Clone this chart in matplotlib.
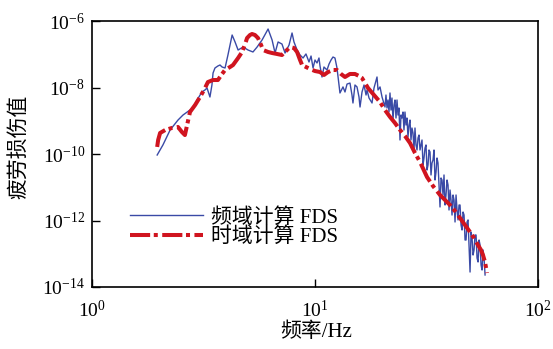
import matplotlib
matplotlib.use("Agg")
import matplotlib.pyplot as plt
from matplotlib.ticker import FixedLocator, LogFormatterMathtext, NullLocator

plt.rcParams['font.family'] = ['Liberation Serif', 'Noto Sans CJK SC']
plt.rcParams['mathtext.fontset'] = 'stix'
plt.rcParams['axes.unicode_minus'] = True

# Frequency-domain FDS (blue)
freq_fd = [1.96, 2.08, 2.24, 2.43, 2.56, 2.75, 2.84, 2.96, 3.11, 3.21, 3.28, 3.38, 3.45, 3.49,
           3.56, 3.67, 3.75, 3.83, 3.95, 4.07, 4.25, 4.38, 4.52, 4.76, 5.01, 5.27, 5.50, 5.79,
           6.16, 6.42, 6.62, 6.83, 7.11, 7.34, 7.65, 7.89, 8.05, 8.31, 8.57, 8.84, 9.11, 9.40,
           9.60, 9.80, 10.0, 10.21, 10.42, 10.53, 10.75, 10.97, 11.32, 11.56, 11.80, 12.04, 12.29,
           12.55, 12.94, 13.35, 13.63, 13.92, 14.35, 14.65, 14.80, 15.11, 15.43, 15.75, 15.92,
           16.25, 16.59, 16.94, 17.11, 17.47, 18.02, 18.39, 18.97, 19.17, 19.57, 19.98,
           20.60, 20.81, 21.03, 21.25, 21.47, 21.69, 21.92, 22.14, 22.37, 22.61,
           22.84, 23.08, 23.32, 23.56, 23.80, 24.05, 24.30, 24.55, 24.81, 25.06,
           25.32, 25.59, 25.85, 26.12, 26.39, 26.67, 26.94, 27.22, 27.51, 27.79,
           28.08, 28.37, 28.67, 28.97, 29.27, 29.57, 29.88, 30.19, 30.50, 30.82,
           31.14, 31.46, 31.79, 32.12, 32.45, 32.79, 33.13, 33.47, 33.82, 34.17,
           34.53, 34.89, 35.25, 35.61, 35.98, 36.36, 36.74, 37.12, 37.50, 37.89,
           38.29, 38.68, 39.09, 39.49, 39.90, 40.32, 40.74, 41.16, 41.59, 42.02,
           42.46, 42.90, 43.34, 43.79, 44.25, 44.71, 45.17, 45.64, 46.12, 46.60,
           47.08, 47.57, 48.06, 48.56, 49.07, 49.58, 50.09, 50.61, 51.14, 51.67,
           52.20, 52.75, 53.29, 53.85, 54.41, 54.97, 55.54, 56.12, 56.70, 57.29, 57.89]
fds_fd = [9.33e-11, 1.87e-10, 5.27e-10, 1.05e-9, 1.49e-9, 2.10e-9, 2.42e-9, 4.21e-9, 7.33e-9,
          8.41e-9, 9.66e-9, 5.18e-9, 1.19e-8, 2.73e-8, 3.86e-8, 4.44e-8, 4.75e-8, 4.14e-8,
          3.86e-8, 9.49e-8, 3.79e-7, 2.34e-7, 1.34e-7, 1.65e-7, 1.34e-7, 1.17e-7, 1.65e-7,
          2.69e-7, 5.74e-7, 2.69e-7, 1.09e-7, 2.34e-7, 2.03e-7, 1.09e-7, 1.90e-7, 4.36e-7,
          2.34e-7, 1.34e-7, 9.49e-8, 7.71e-8, 1.02e-7, 5.85e-8, 8.85e-8, 3.86e-8, 6.71e-8,
          5.46e-8, 7.71e-8, 4.44e-8, 2.07e-8, 4.14e-8, 3.36e-8, 5.09e-8, 6.71e-8, 8.26e-8,
          7.71e-8, 3.86e-8, 6.84e-9, 1.04e-8, 7.33e-9, 1.27e-8, 1.36e-8, 5.94e-9, 3.42e-9,
          1.19e-8, 1.04e-8, 5.18e-9, 2.59e-9, 7.33e-9, 1.19e-8, 5.94e-9, 8.41e-9, 4.83e-9,
          3.42e-9, 9.66e-9, 2.07e-8, 8.41e-9, 1.04e-8, 5.18e-9,
          2.59e-9, 5.94e-9, 2.42e-9, 4.21e-9, 1.83e-9, 6.84e-9, 2.10e-9, 4.83e-9, 1.05e-9, 2.98e-9,
          4.21e-9, 1.21e-9, 4.21e-9, 1.49e-9, 2.42e-9, 2.64e-10, 1.49e-9, 1.21e-9, 1.83e-9, 5.27e-10,
          1.83e-9, 7.45e-10, 1.21e-9, 3.24e-10, 7.45e-10, 1.05e-9, 2.64e-10, 6.05e-10, 4.29e-10, 1.32e-10,
          6.05e-10, 1.87e-10, 1.32e-10, 3.03e-10, 3.72e-10, 1.32e-10, 1.87e-10, 2.64e-10, 4.67e-11, 7.59e-11,
          1.51e-10, 1.87e-10, 3.30e-11, 4.67e-11, 1.32e-10, 1.15e-10, 2.34e-11, 5.36e-11, 6.60e-11, 1.32e-10,
          1.65e-11, 2.88e-11, 7.59e-11, 5.36e-11, 1.17e-11, 2.55e-12, 1.90e-11, 1.65e-11, 5.85e-12, 2.34e-11,
          2.92e-12, 5.85e-12, 1.65e-11, 1.17e-11, 2.07e-12, 8.26e-12, 4.14e-12, 1.46e-12, 5.85e-12, 4.14e-12,
          9.02e-13, 5.85e-12, 2.07e-12, 1.04e-12, 2.92e-12, 2.92e-12, 7.33e-13, 5.18e-13, 1.80e-12, 1.46e-12,
          2.59e-13, 2.59e-13, 9.02e-13, 1.04e-12, 1.83e-13, 2.82e-14, 4.51e-13, 2.98e-13, 9.16e-14, 1.30e-13,
          3.66e-13, 3.66e-13, 7.45e-14, 5.65e-14, 2.59e-13, 1.83e-13, 4.59e-14, 3.24e-14, 1.30e-13, 7.45e-14,
          2.30e-14]

# Time-domain FDS (red)
freq_td = [1.96, 1.98, 2.02, 2.13, 2.28, 2.43, 2.53, 2.61, 2.67, 2.75, 2.90, 3.05, 3.18, 3.31,
           3.49, 3.67, 3.83, 3.95, 4.16, 4.29, 4.52, 4.71, 4.86, 4.96, 5.11, 5.22, 5.38, 5.55,
           5.73, 5.85, 6.16, 6.42, 6.75, 7.11, 7.41, 7.73, 8.05, 8.31, 8.57, 8.75, 9.11, 9.50,
           10.0, 10.53, 10.97, 11.44, 12.04, 12.55, 13.08, 13.63, 14.35, 15.11, 15.75, 16.25,
           16.76, 17.29, 18.39, 19.57, 20.60, 21.70, 22.84, 24.06, 25.33, 26.67, 28.08, 29.58,
           31.79, 33.82, 36.36, 38.28, 40.31, 42.45, 44.69, 47.06, 49.55, 51.64, 53.81, 55.51,
           56.66, 57.85, 59.06]
fds_td = [1.63e-10, 2.64e-10, 4.29e-10, 5.27e-10, 6.05e-10, 6.49e-10, 4.59e-10, 3.72e-10,
          7.45e-10, 1.83e-9, 2.98e-9, 5.18e-9, 8.41e-9, 1.46e-8, 1.68e-8, 1.68e-8, 2.55e-8,
          3.36e-8, 4.14e-8, 4.75e-8, 7.71e-8, 1.17e-7, 2.03e-7, 3.08e-7, 3.79e-7, 4.06e-7,
          3.79e-7, 3.08e-7, 1.90e-7, 1.34e-7, 1.17e-7, 1.09e-7, 1.02e-7, 9.49e-8, 1.25e-7,
          1.65e-7, 1.54e-7, 1.17e-7, 6.71e-8, 4.75e-8, 4.14e-8, 3.60e-8, 3.13e-8, 2.92e-8,
          2.38e-8, 2.92e-8, 3.36e-8, 3.36e-8, 2.55e-8, 2.07e-8, 2.55e-8, 2.55e-8, 2.22e-8,
          1.93e-8, 1.36e-8, 9.66e-9, 5.94e-9, 3.66e-9, 2.10e-9, 1.30e-9, 8.55e-10, 5.27e-10,
          3.48e-10, 2.14e-10, 1.07e-10, 5.74e-11, 2.03e-11, 1.09e-11, 5.85e-12, 4.14e-12,
          2.92e-12, 1.93e-12, 1.19e-12, 7.33e-13, 4.51e-13, 2.98e-13, 1.83e-13, 1.30e-13,
          9.16e-14, 5.65e-14, 2.64e-14]

label_fd = "频域计算 FDS"
label_td = "时域计算 FDS"
xlabel = "频率/Hz"
ylabel = "疲劳损伤值"
xticks = [1, 10, 100]
yticks = [1e-14, 1e-12, 1e-10, 1e-8, 1e-6]

W, H = 553, 349
fig = plt.figure(figsize=(W / 100, H / 100), dpi=100)
ax = fig.add_axes([92 / W, 1 - 287 / H, (538 - 92) / W, (287 - 21) / H])

ax.plot(freq_fd, fds_fd, color='#3a4aa6', lw=1.0, label=label_fd, zorder=2)
ax.plot(freq_td, fds_td, color='#d0141f', lw=2.9, linestyle=(0, (5, 0.9, 1, 1.1)),
        dash_capstyle='butt', label=label_td, zorder=3)

ax.set_xscale('log')
ax.set_yscale('log')
ax.set_xlim(1, 100)
ax.set_ylim(1e-14, 1e-6)
ax.xaxis.set_major_locator(FixedLocator(xticks))
ax.yaxis.set_major_locator(FixedLocator(yticks))
ax.xaxis.set_minor_locator(NullLocator())
ax.yaxis.set_minor_locator(NullLocator())
ax.xaxis.set_major_formatter(LogFormatterMathtext())
ax.yaxis.set_major_formatter(LogFormatterMathtext())
ax.tick_params(axis='both', which='major', direction='in', length=6, width=1.0,
               labelsize=14, top=False, right=False)
ax.tick_params(axis='x', pad=9)
ax.tick_params(axis='y', pad=5)
for s in ax.spines.values():
    s.set_linewidth(1.2)

fig.text(19 / W, 1 - 147 / H, ylabel, rotation=90, ha='center', va='center', fontsize=15)
fig.text(316 / W, 1 - 332 / H, xlabel, ha='center', va='center', fontsize=15)

leg = ax.legend(loc='center left', bbox_to_anchor=((130 - 92) / 446, (287 - 227.5) / 266),
                frameon=False, fontsize=15, handlelength=3.5, handletextpad=0.4,
                borderpad=0, borderaxespad=0, labelspacing=0.0)

fig.savefig('out.png', dpi=100)
